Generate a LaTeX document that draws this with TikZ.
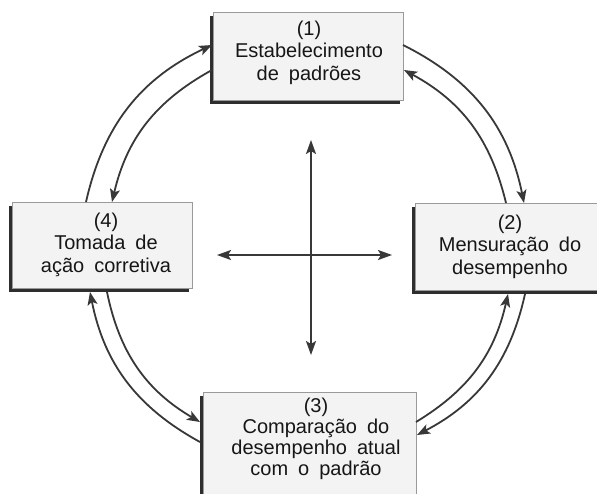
\documentclass[tikz,border=0pt]{standalone}
\usepackage{fontspec}
\setmainfont{Liberation Sans}[WordSpace=1.8]
\usetikzlibrary{arrows.meta,calc,backgrounds}
\definecolor{ink}{HTML}{383838}
\definecolor{txtc}{HTML}{161616}
\definecolor{boxfill}{HTML}{F3F3F3}
\definecolor{boxline}{HTML}{9A9A9A}
\definecolor{shadowc}{HTML}{2E2E2E}
\begin{document}
\begin{tikzpicture}[x=1pt,y=-1pt,
  box/.style={draw=boxline, line width=0.8pt, fill=boxfill, inner sep=0pt, outer sep=0pt},
  lbl/.style={anchor=north, align=center, inner sep=0pt, text=txtc, font=\fontsize{20}{22.5}\selectfont},
  flow/.style={draw=ink, line width=1.8pt, -{Stealth[length=13pt,width=10pt,inset=3pt]}},
  crossarrow/.style={draw=ink, line width=1.8pt, {Stealth[length=14pt,width=10pt,inset=3pt]}-{Stealth[length=14pt,width=10pt,inset=3pt]}}
]
\useasboundingbox (0,0) rectangle (597,493);

% boxes
\node[box, minimum width=190pt, minimum height=88pt] (b1) at (308,56) {};
\node[box, minimum width=180pt, minimum height=86pt] (b4) at (102,245) {};
\node[box, minimum width=190pt, minimum height=87pt] (b2) at (510,246.5) {};
\node[box, minimum width=213pt, minimum height=118pt] (b3) at (309.5,451) {};

\begin{scope}[on background layer]
  \fill[white] (0,0) rectangle (597,493);
  \foreach \b in {b1,b2,b3,b4}{
    \fill[shadowc] ($(\b.north west)+(-3.5,3.5)$) rectangle ($(\b.south east)+(-3.5,3.5)$);
  }
\end{scope}

% texts
\node[lbl] (t1) at (309,20.4) {(1)\\Estabelecimento\\de padrões};
\node[lbl] (t4) at (106,212.4) {(4)\\Tomada de\\ação corretiva};
\node[lbl] (t2) at (510,214.4) {(2)\\Mensuração do\\desempenho};
\node[lbl, font=\fontsize{20}{21.2}\selectfont] (t3) at (316,397.4) {(3)\\Comparação do\\desempenho atual\\com o padrão};

% cycle arrows
\draw[flow] ($(b4.north west)+(74,0)$) to[bend left=26] ($(b1.north west)+(-1,33)$);
\draw[flow] ($(b1.north west)+(-1,58)$) to[bend right=24] ($(b4.north west)+(100,0)$);
\draw[flow] ($(b1.north east)+(0,33)$) to[bend left=26] ($(b2.north west)+(109,0)$);
\draw[flow] ($(b2.north west)+(91,0)$) to[bend right=24] ($(b1.north east)+(1,58)$);
\draw[flow] ($(b3.north east)+(0,30)$) to[bend right=23] ($(b2.south west)+(93,4)$);
\draw[flow] ($(b2.south west)+(110,4)$) to[bend left=25] ($(b3.north east)+(1,43)$);
\draw[flow] ($(b3.north west)+(-3,50)$) to[bend left=25] ($(b4.south west)+(78,4)$);
\draw[flow] ($(b4.south west)+(95,4)$) to[bend right=24] ($(b3.north west)+(-3,30)$);

% central cross
\coordinate (ct) at (311,140);
\coordinate (cb) at (311,355);
\coordinate (cl) at (217,255);
\coordinate (cr) at (392,255);
\draw[crossarrow] (ct) -- (cb);
\draw[crossarrow] (cl) -- (cr);
\end{tikzpicture}
\end{document}
